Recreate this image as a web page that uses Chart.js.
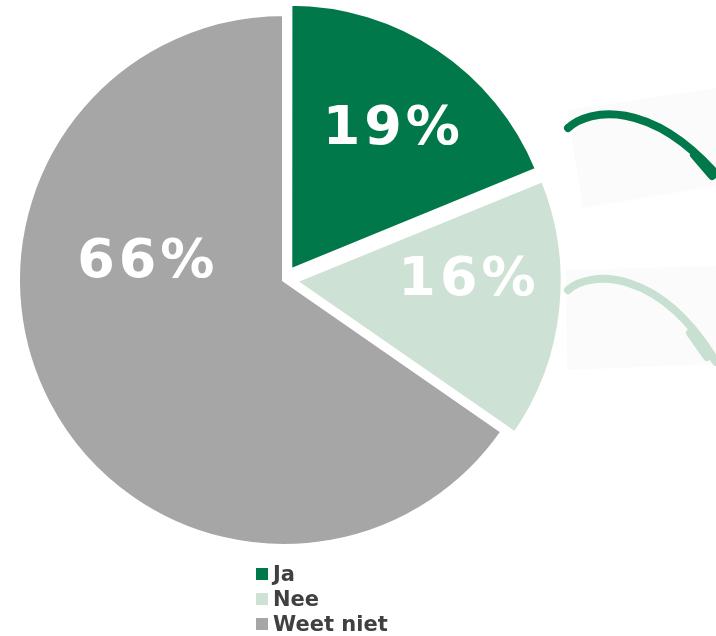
<!DOCTYPE html>
<html>
<head>
<meta charset="utf-8">
<script src="https://cdn.jsdelivr.net/npm/chart.js@4/dist/chart.umd.min.js"></script>
<style>
  body { margin: 0; background: #fff; }
  #wrap { position: relative; width: 716px; height: 636px; overflow: hidden; }
  #chart { position: absolute; left: 0; top: 0; }
  #arrows { position: absolute; left: 0; top: 0; }
  #legend { position: absolute; left: 256px; top: 561px; font: bold 21px "DejaVu Sans", Verdana, sans-serif; color: #404040; }
  #legend .row { height: 25px; display: flex; align-items: center; }
  #legend .box { width: 12px; height: 12px; margin-right: 5px; }
</style>
</head>
<body>
<div id="wrap">
  <canvas id="chart" width="716" height="636"></canvas>
  <svg id="arrows" width="716" height="636">
    <polygon points="567,110 716,88 716,186 583,208" fill="#fbfbfb"/>
    <polygon points="566,270 716,266 716,364 567,370" fill="#fbfbfb"/>
    <g fill="none" stroke-linecap="round">
      <path d="M568,128 C590,108 650,100 716,174" stroke="#00784a" stroke-width="8"/>
      <path d="M694,155 L712,176" stroke="#00784a" stroke-width="8"/>
      <path d="M568,290 C590,270 660,268 716,362" stroke="#c8e0d1" stroke-width="8"/>
      <path d="M690,333 L707,357" stroke="#c8e0d1" stroke-width="8"/>
    </g>
  </svg>
  <div id="legend"></div>
</div>
<script>
// data
const categories = ["Ja", "Nee", "Weet niet"];
const shares = [19, 16, 66];
const sliceLabels = ["19%", "16%", "66%"];
const colors = ["#00784a", "#cde2d5", "#a6a6a6"];

// where the big white labels sit: angle (deg, clockwise from top) and distance from centre
const labelAngle = [34.6, 88.4, 279.3];
const labelDist = [189, 183, 140];

const legend = document.getElementById("legend");
categories.forEach((c, i) => {
    const row = document.createElement("div");
    row.className = "row";
    const box = document.createElement("span");
    box.className = "box";
    box.style.background = colors[i];
    const txt = document.createElement("span");
    txt.textContent = c;
    row.appendChild(box);
    row.appendChild(txt);
    legend.appendChild(row);
});

const sliceText = {
    id: "sliceText",
    afterDatasetsDraw(chart) {
        const ctx = chart.ctx;
        const arc = chart.getDatasetMeta(0).data[0];
        const size = 54;
        const gap = 4;
        ctx.save();
        ctx.font = "bold " + size + "px 'DejaVu Sans', Verdana, sans-serif";
        ctx.letterSpacing = gap + "px";
        ctx.fillStyle = "#ffffff";
        ctx.textAlign = "center";
        ctx.textBaseline = "alphabetic";
        sliceLabels.forEach((t, i) => {
            const a = labelAngle[i] * Math.PI / 180;
            const x = arc.x + Math.sin(a) * labelDist[i];
            const y = arc.y - Math.cos(a) * labelDist[i];
            ctx.fillText(t, x + gap / 2, y + size * 0.3645);
        });
        ctx.restore();
    }
};

new Chart(document.getElementById("chart").getContext("2d"), {
    type: "pie",
    data: {
        labels: categories,
        datasets: [{
            data: shares,
            backgroundColor: colors,
            borderColor: "#ffffff",
            borderWidth: 4,
            borderJoinStyle: "miter",
            offset: [45, 44, 0],
            hoverOffset: 0
        }]
    },
    options: {
        responsive: false,
        animation: false,
        radius: 266,
        layout: { padding: { left: 0, top: 0, right: 148, bottom: 76 } },
        plugins: {
            legend: { display: false },
            tooltip: { enabled: false }
        }
    },
    plugins: [sliceText]
});
</script>
</body>
</html>
